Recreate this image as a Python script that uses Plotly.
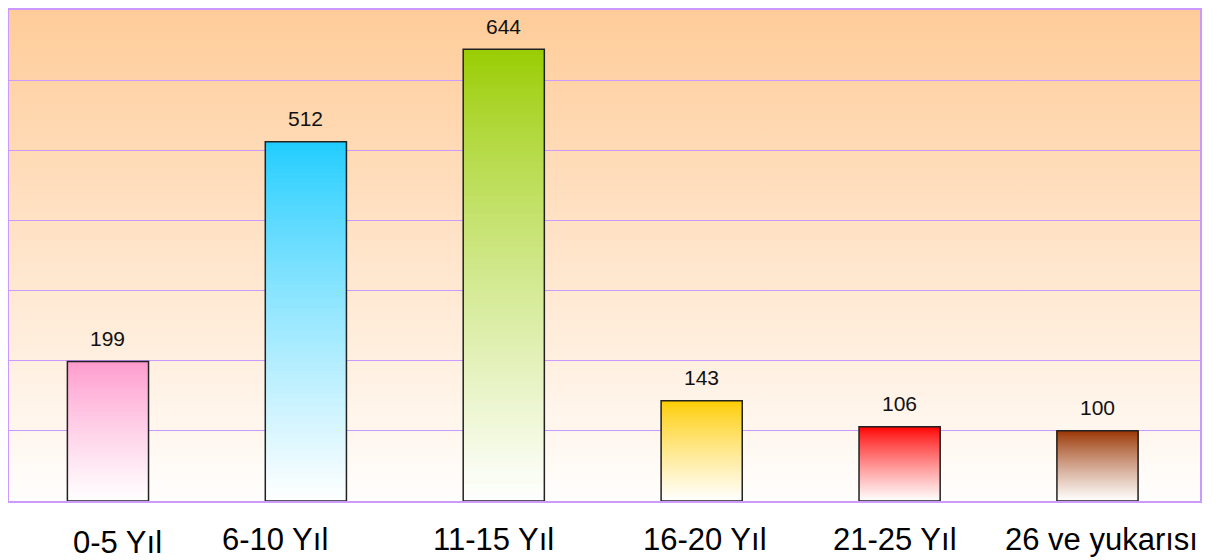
import base64
import plotly.graph_objects as go

categories = ["0-5 Yıl", "6-10 Yıl", "11-15 Yıl", "16-20 Yıl", "21-25 Yıl", "26 ve yukarısı"]
values = [199, 512, 644, 143, 106, 100]
top_colors = ["#FF99CC", "#1ECCFF", "#99CC00", "#FFCC00", "#FF0000", "#993300"]
bottom_color = "#FFFFFF"

N = 80

def hex_to_rgb(h):
    h = h.lstrip("#")
    return tuple(int(h[i:i + 2], 16) for i in (0, 2, 4))

def mix(c1, c2, f):
    a = hex_to_rgb(c1)
    b = hex_to_rgb(c2)
    return "rgb(%d,%d,%d)" % tuple(round(a[i] * (1 - f) + b[i] * f) for i in range(3))

fig = go.Figure()

# gradient segments, overlapping (each from its base up to the bar's top)
for k in range(N):
    t_from_top = 1 - (k + 0.5) / N
    f = t_from_top ** 0.85
    colors = [mix(tc, bottom_color, f) for tc in top_colors]
    fig.add_trace(go.Bar(
        x=categories,
        y=[v * (1 - k / N) for v in values],
        base=[v * k / N for v in values],
        marker=dict(color=colors, line=dict(width=0)),
        width=0.41,
        hoverinfo="skip",
        showlegend=False,
    ))

# outline
fig.add_trace(go.Bar(
    x=categories,
    y=values,
    marker=dict(color="rgba(0,0,0,0)", line=dict(color="#222222", width=1.5)),
    width=0.41,
    showlegend=False,
))

# value labels
for c, v in zip(categories, values):
    fig.add_annotation(x=c, y=v, text=str(v), showarrow=False, yshift=23,
                       yanchor="middle",
                       font=dict(family="Arial, Liberation Sans", size=21, color="#111111"))

# category labels
label_shift_x = [10, -31, -10, 3, -5, 4]
label_shift_y = [-41, -38, -38, -38, -38, -38]
for c, dx, dy in zip(categories, label_shift_x, label_shift_y):
    fig.add_annotation(x=c, y=0, text=c, showarrow=False, xshift=dx, yshift=dy,
                       yanchor="middle",
                       font=dict(family="Arial, Liberation Sans", size=31, color="#000000"))

svg = ('<svg xmlns="http://www.w3.org/2000/svg" width="100" height="100" preserveAspectRatio="none">'
       '<defs><linearGradient id="g" x1="0" y1="0" x2="0" y2="1">'
       '<stop offset="0" stop-color="#FFCC99"/><stop offset="1" stop-color="#FFFEFD"/>'
       '</linearGradient></defs><rect width="100" height="100" fill="url(#g)"/></svg>')
src = "data:image/svg+xml;base64," + base64.b64encode(svg.encode()).decode()

fig.add_layout_image(dict(source=src, xref="paper", yref="paper", x=0, y=1,
                          sizex=1, sizey=1, sizing="stretch", layer="below"))

fig.update_layout(
    width=1211, height=552,
    margin=dict(l=1, r=19, t=0, b=59),
    barmode="overlay",
    paper_bgcolor="white",
    plot_bgcolor="rgba(0,0,0,0)",
    bargap=0.59,
)
fig.update_xaxes(showticklabels=False, showgrid=False, showline=True, mirror=True,
                 linecolor="#CC99FF", linewidth=2, ticks="")
fig.update_yaxes(range=[0, 700], dtick=100, showticklabels=False, showgrid=True,
                 gridcolor="#CC99FF", gridwidth=1, showline=True, mirror=True,
                 linecolor="#CC99FF", linewidth=2, ticks="", zeroline=False)

fig.write_html("out.html")
